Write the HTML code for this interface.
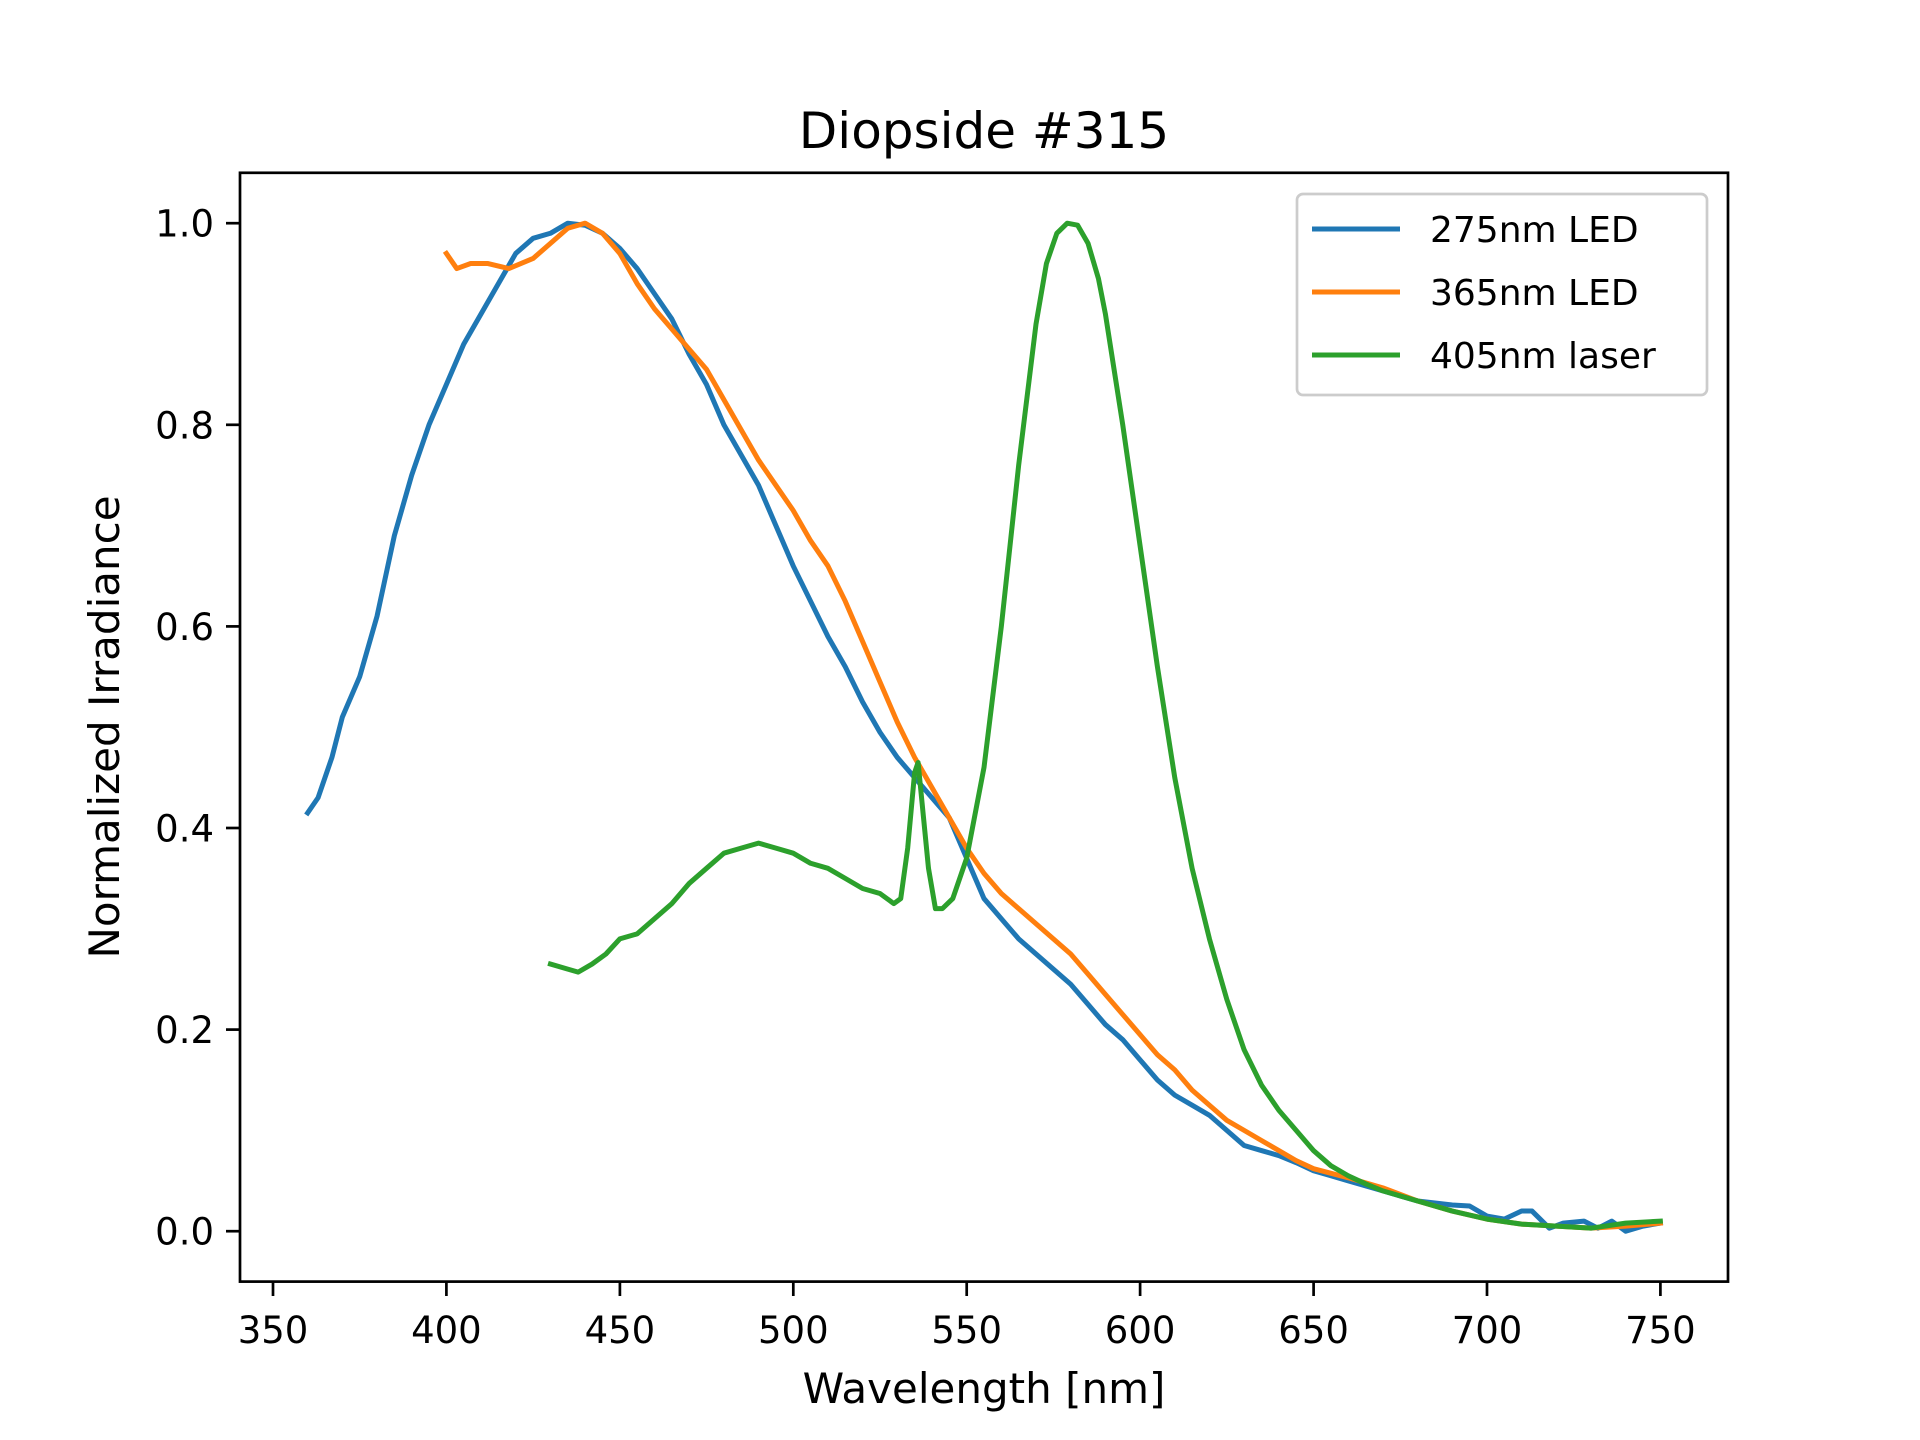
<!DOCTYPE html>
<html><head><meta charset="utf-8"><style>
html,body{margin:0;padding:0;background:#fff;}
svg{display:block;font-family:"DejaVu Sans","Liberation Sans",sans-serif;}
</style></head><body>
<svg width="1920" height="1440" viewBox="0 0 1920 1440" xmlns="http://www.w3.org/2000/svg">
<rect width="1920" height="1440" fill="#fff"/>
<g transform="translate(240 1281.6) scale(3.4685 -1008) translate(-340.5 0.05)" fill="none" stroke-width="5" stroke-linejoin="round" stroke-linecap="square">
<polyline vector-effect="non-scaling-stroke" stroke="#1f77b4" points="360,0.415 363,0.43 367,0.47 370,0.51 375,0.55 380,0.61 385,0.69 390,0.75 395,0.80 400,0.84 405,0.88 410,0.91 415,0.94 420,0.97 425,0.985 430,0.99 435,1.0 440,0.998 445,0.99 450,0.975 455,0.955 460,0.93 465,0.905 470,0.87 475,0.84 480,0.80 485,0.77 490,0.74 495,0.70 500,0.66 505,0.625 510,0.59 515,0.56 520,0.525 525,0.495 530,0.47 535,0.45 540,0.43 545,0.41 550,0.37 555,0.33 560,0.31 565,0.29 570,0.275 575,0.26 580,0.245 585,0.225 590,0.205 595,0.19 600,0.17 605,0.15 610,0.135 615,0.125 620,0.115 625,0.1 630,0.085 635,0.08 640,0.075 645,0.068 650,0.06 655,0.055 660,0.05 665,0.045 670,0.04 675,0.035 680,0.03 685,0.028 690,0.026 695,0.025 700,0.015 705,0.012 710,0.02 713,0.02 718,0.003 722,0.008 728,0.01 732,0.003 736,0.01 740,0.0 745,0.005 750,0.008"/>
<polyline vector-effect="non-scaling-stroke" stroke="#ff7f0e" points="400,0.97 403,0.955 407,0.96 412,0.96 418,0.955 425,0.965 430,0.98 435,0.995 440,1.0 445,0.99 450,0.97 455,0.94 460,0.915 465,0.895 470,0.875 475,0.855 480,0.825 485,0.795 490,0.765 495,0.74 500,0.715 505,0.685 510,0.66 515,0.625 520,0.585 525,0.545 530,0.505 535,0.47 540,0.44 545,0.41 550,0.38 555,0.355 560,0.335 565,0.32 570,0.305 575,0.29 580,0.275 585,0.255 590,0.235 595,0.215 600,0.195 605,0.175 610,0.16 615,0.14 620,0.125 625,0.11 630,0.1 635,0.09 640,0.08 645,0.07 650,0.062 660,0.053 670,0.043 680,0.03 690,0.02 700,0.012 710,0.007 720,0.005 730,0.003 740,0.005 750,0.008"/>
<polyline vector-effect="non-scaling-stroke" stroke="#2ca02c" points="430,0.265 435,0.26 438,0.257 442,0.265 446,0.275 450,0.29 455,0.295 460,0.31 465,0.325 470,0.345 475,0.36 480,0.375 485,0.38 490,0.385 495,0.38 500,0.375 505,0.365 510,0.36 515,0.35 520,0.34 525,0.335 529,0.325 531,0.33 533,0.38 535,0.455 536,0.465 537,0.43 539,0.36 541,0.32 543,0.32 546,0.33 550,0.37 555,0.46 560,0.6 565,0.76 570,0.9 573,0.96 576,0.99 579,1.0 582,0.998 585,0.98 588,0.945 590,0.91 595,0.8 600,0.68 605,0.56 610,0.45 615,0.36 620,0.29 625,0.23 630,0.18 635,0.145 640,0.12 645,0.1 650,0.08 655,0.065 660,0.055 665,0.047 670,0.04 680,0.03 690,0.02 700,0.012 710,0.007 720,0.005 730,0.003 740,0.008 750,0.01"/>
</g>
<rect x="240" y="172.8" width="1488" height="1108.8" fill="none" stroke="#000" stroke-width="2.7"/>
<g stroke="#000" stroke-width="2.7">
<line x1="273" y1="1281.6" x2="273" y2="1296"/><line x1="446.4" y1="1281.6" x2="446.4" y2="1296"/><line x1="619.9" y1="1281.6" x2="619.9" y2="1296"/><line x1="793.3" y1="1281.6" x2="793.3" y2="1296"/><line x1="966.7" y1="1281.6" x2="966.7" y2="1296"/><line x1="1140.1" y1="1281.6" x2="1140.1" y2="1296"/><line x1="1313.6" y1="1281.6" x2="1313.6" y2="1296"/><line x1="1487" y1="1281.6" x2="1487" y2="1296"/><line x1="1660.4" y1="1281.6" x2="1660.4" y2="1296"/>
<line x1="240" y1="1231.2" x2="226" y2="1231.2"/><line x1="240" y1="1029.6" x2="226" y2="1029.6"/><line x1="240" y1="828" x2="226" y2="828"/><line x1="240" y1="626.4" x2="226" y2="626.4"/><line x1="240" y1="424.8" x2="226" y2="424.8"/><line x1="240" y1="223.2" x2="226" y2="223.2"/>
</g>
<g font-size="37" fill="#000" text-anchor="middle">
<text x="273" y="1343">350</text><text x="446.4" y="1343">400</text><text x="619.9" y="1343">450</text><text x="793.3" y="1343">500</text><text x="966.7" y="1343">550</text><text x="1140.1" y="1343">600</text><text x="1313.6" y="1343">650</text><text x="1487" y="1343">700</text><text x="1660.4" y="1343">750</text>
</g>
<g font-size="37" fill="#000" text-anchor="end">
<text x="214" y="1244.5">0.0</text><text x="214" y="1043">0.2</text><text x="214" y="841.5">0.4</text><text x="214" y="640">0.6</text><text x="214" y="438.5">0.8</text><text x="214" y="236.5">1.0</text>
</g>
<text x="984" y="1403" font-size="42" text-anchor="middle">Wavelength [nm]</text>
<text transform="translate(119 727) rotate(-90)" font-size="42" text-anchor="middle">Normalized Irradiance</text>
<text x="984" y="148" font-size="50" text-anchor="middle">Diopside #315</text>
<rect x="1297" y="194" width="410" height="201" rx="6" fill="#fff" fill-opacity="0.8" stroke="#ccc" stroke-width="2.7"/>
<g stroke-width="5">
<line x1="1312" y1="229" x2="1400" y2="229" stroke="#1f77b4"/>
<line x1="1312" y1="292" x2="1400" y2="292" stroke="#ff7f0e"/>
<line x1="1312" y1="355" x2="1400" y2="355" stroke="#2ca02c"/>
</g>
<g font-size="36" fill="#000">
<text x="1430" y="242">275nm LED</text>
<text x="1430" y="305">365nm LED</text>
<text x="1430" y="368">405nm laser</text>
</g>
</svg>
</body></html>
